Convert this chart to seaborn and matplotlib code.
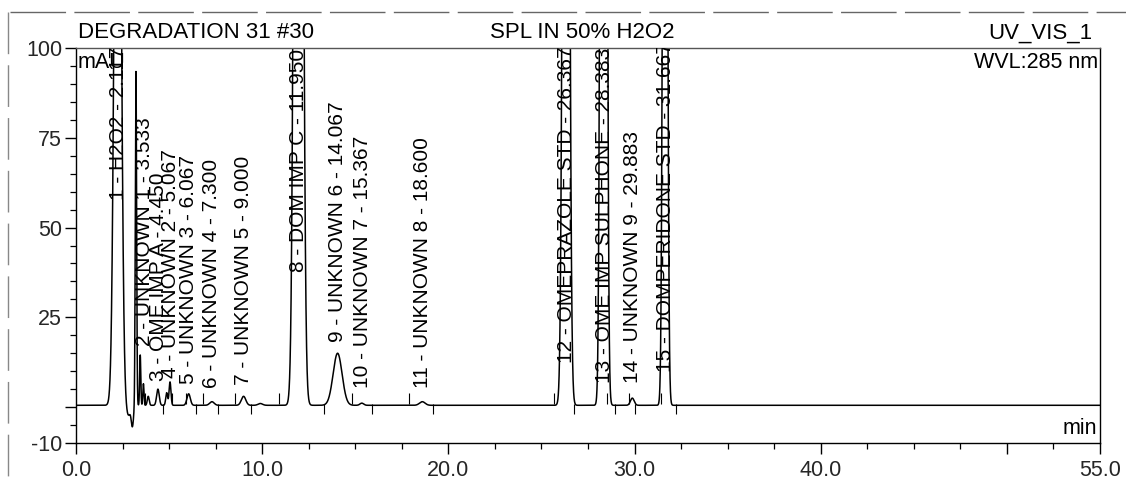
import numpy as np
import pandas as pd
import matplotlib
matplotlib.use("Agg")
import matplotlib.pyplot as plt
from matplotlib.lines import Line2D
import seaborn as sns

# ---------------- data ----------------
# trace components (apex time in min, height in mAU, sigma in min)
trace_rt = [2.24, 2.80, 3.03, 3.22, 3.45, 3.62, 3.88, 4.40, 4.87, 5.05,
            6.05, 7.30, 9.00, 9.90, 11.95, 14.05, 15.35, 18.60,
            26.32, 28.34, 29.88, 31.64]
trace_height = [262, -3.0, -5.5, 93, 14, 6, 2.5, 4.5, 3.5, 6.5,
                3.2, 1.0, 2.5, 0.5, 650, 14.5, 0.6, 1.0,
                500, 900, 2.0, 400]
trace_sigma = [0.155, 0.12, 0.06, 0.035, 0.03, 0.03, 0.05, 0.07, 0.05, 0.05,
               0.09, 0.12, 0.12, 0.12, 0.16, 0.24, 0.10, 0.15,
               0.13, 0.11, 0.10, 0.095]
baseline_level = 0.5

# peak table (labels)
peak_no = list(range(1, 16))
peak_name = ["H2O2", "UNKNOWN 1", "OME IMP A", "UNKNOWN 2", "UNKNOWN 3",
             "UNKNOWN 4", "UNKNOWN 5", "DOM IMP C", "UNKNOWN 6", "UNKNOWN 7",
             "UNKNOWN 8", "OMEPRAZOLE STD", "OME IMP SULPHONE", "UNKNOWN 9",
             "DOMPERIDONE STD"]
peak_rt = [2.117, 3.533, 4.450, 5.067, 6.067, 7.300, 9.000, 11.950, 14.067,
           15.367, 18.600, 26.367, 28.383, 29.883, 31.667]

# peak delimiters (min)
delim_start = [3.69, 5.17, 5.93, 6.81, 8.52, 10.92, 14.80, 17.91, 25.70,
               28.50, 29.70, 31.40]
delim_end = [4.65, 6.46, 7.63, 9.38, 13.30, 15.88, 19.16, 26.75, 28.95,
             30.00, 32.20]

x_major = [0, 10, 20, 30, 40, 50, 55]
x_major_labels = ["0.0", "10.0", "20.0", "30.0", "40.0", "", "55.0"]
y_major = [-10, 0, 25, 50, 75, 100]
y_major_labels = ["-10", "", "25", "50", "75", "100"]

# ---------------- layout ----------------
label_bottom = [57.7, 17.0, 7.2, 8.0, 6.4, 5.3, 6.1, 37.6, 18.1, 5.3, 5.3,
                12.3, 6.7, 6.7, 9.7]
label_dx = [0.15, 0.15, 0, 0, 0, 0, 0, 0, 0, 0, 0, 0, 0, 0, 0]

W, H = 1126, 483
sns.set_theme(style="white")
plt.rcParams["font.family"] = ["Liberation Sans", "DejaVu Sans"]

fig = plt.figure(figsize=(W / 100, H / 100), dpi=100)
ax = fig.add_axes([76 / W, 1 - 443 / H, (1100 - 76) / W, (443 - 48) / H])

t = np.linspace(0, 55, 22001)
sig = np.full_like(t, baseline_level)
for rt, h, s in zip(trace_rt, trace_height, trace_sigma):
    sig = sig + h * np.exp(-0.5 * ((t - rt) / s) ** 2)
df = pd.DataFrame({"time": t, "signal": sig})

sns.lineplot(data=df, x="time", y="signal", ax=ax, color="black",
             linewidth=1.1, estimator=None, sort=False)

# delimiters
ax.vlines(delim_start, 1.0, 3.8, color="black", linewidth=0.8)
ax.vlines(delim_end, -2.0, 1.0, color="black", linewidth=0.8)

# peak labels
for n, name, rt, yb, dx in zip(peak_no, peak_name, peak_rt, label_bottom,
                               label_dx):
    ax.text(rt + dx, yb, f"{n} - {name} - {rt:.3f}", rotation=90,
            ha="center", va="bottom", fontsize=15, color="black",
            clip_on=True)

ax.set_xlim(0, 55)
ax.set_ylim(-10, 100)
ax.set_xlabel("")
ax.set_ylabel("")
ax.set_xticks(x_major)
ax.set_xticklabels(x_major_labels)
ax.set_xticks(np.arange(0, 55.01, 2.5), minor=True)
ax.set_yticks(y_major)
ax.set_yticklabels(y_major_labels)
ax.set_yticks(np.arange(-10, 100.01, 5), minor=True)
ax.tick_params(axis="both", which="major", direction="out", length=8,
               width=1, color="black", labelsize=15.5, pad=2)
ax.tick_params(axis="both", which="minor", direction="out", length=4,
               width=0.9, color="black")
ax.tick_params(axis="x", which="major", pad=4)
ax.tick_params(bottom=True, left=True, which="both")

for side in ["left", "right", "bottom"]:
    ax.spines[side].set_color("black")
    ax.spines[side].set_linewidth(1.0)
ax.spines["top"].set_color("#555555")
ax.spines["top"].set_linewidth(1.0)

# texts
fig.text(78 / W, 1 - 33 / H, "DEGRADATION 31 #30", ha="left", va="center",
         fontsize=16, color="black")
fig.text(582 / W, 1 - 33 / H, "SPL IN 50% H2O2", ha="center", va="center",
         fontsize=16, color="black")
fig.text(1092 / W, 1 - 33 / H, "UV_VIS_1", ha="right", va="center",
         fontsize=16, color="black")
fig.text(1098 / W, 1 - 63 / H, "WVL:285 nm", ha="right", va="center",
         fontsize=15.5, color="black")
fig.text(78 / W, 1 - 63 / H, "mAU", ha="left", va="center",
         fontsize=15.5, color="black")
fig.text(1097 / W, 1 - 428 / H, "min", ha="right", va="center",
         fontsize=15.5, color="black")

# scanned page frame
fig.add_artist(Line2D([10 / W, 1.0], [1 - 12 / H, 1 - 12 / H],
                      transform=fig.transFigure, color="#666666",
                      linewidth=1.0, dashes=(40, 6)))
fig.add_artist(Line2D([8 / W, 8 / W], [1 - 12 / H, 0.0],
                      transform=fig.transFigure, color="#888888",
                      linewidth=1.0, dashes=(30, 8)))

fig.savefig("out.png", dpi=100)
